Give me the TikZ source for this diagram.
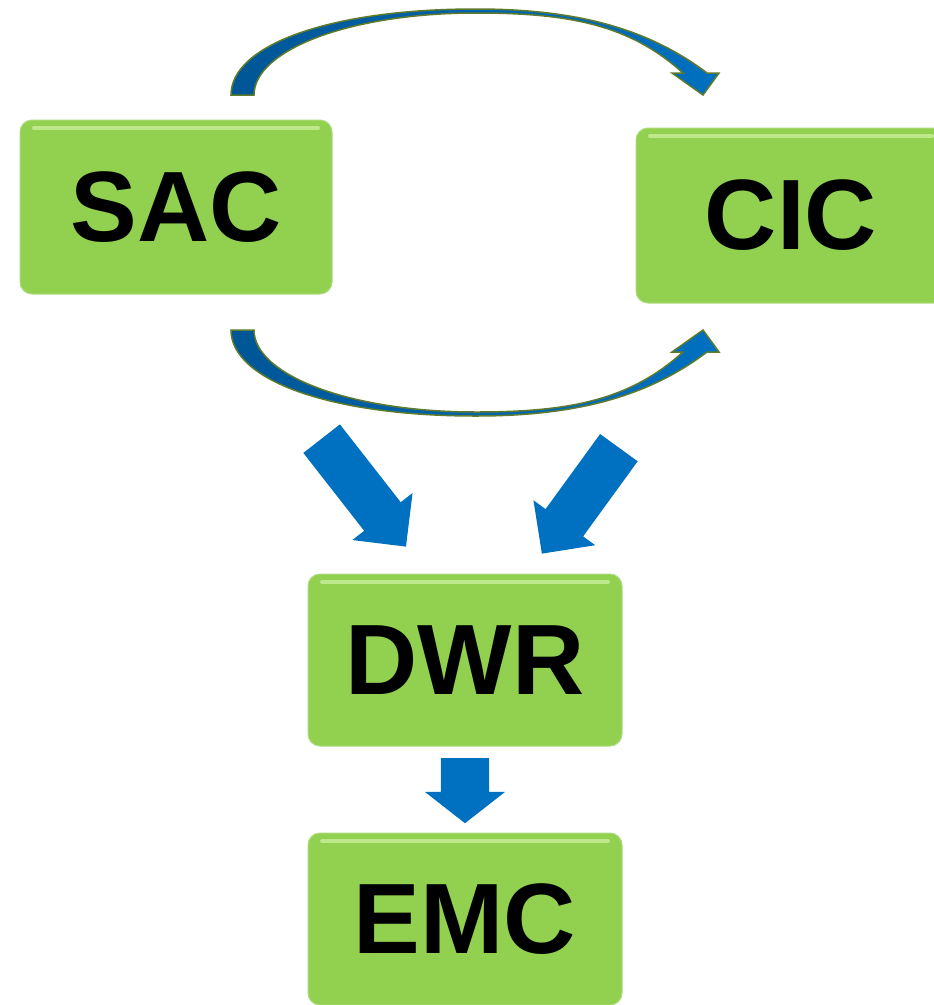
\documentclass[tikz,border=0pt]{standalone}
\usepackage{fontspec}
\setmainfont{Liberation Sans}
\usepackage{tikz}
\usepackage{xcolor}
\usetikzlibrary{positioning,shapes.arrows}
\definecolor{boxgreen}{RGB}{146,208,80}
\definecolor{boxlight}{RGB}{190,232,140}
\definecolor{arrblue}{RGB}{0,112,192}
\definecolor{arrdark}{RGB}{0,86,150}
\definecolor{arrrim}{RGB}{94,122,44}

\tikzset{
    unit/.style={
        rectangle, rounded corners=12pt, fill=boxgreen,
        draw=boxgreen!75!white, line width=1pt, inner sep=0pt,
        font=\fontsize{100}{100}\selectfont\bfseries,
        path picture={
            \draw[boxlight, line width=4pt, line cap=round]
                ([xshift=14pt,yshift=-8pt]path picture bounding box.north west)
                -- ([xshift=-14pt,yshift=-8pt]path picture bounding box.north east);
        }
    },
    blockarrow/.style={
        single arrow, fill=arrblue, draw=none, anchor=tail,
        inner xsep=0pt, inner ysep=23pt,
        single arrow head indent=0pt, single arrow head extend=15pt
    },
    loopband/.style={
        left color=arrdark, right color=arrblue,
        draw=arrrim, line width=1.5pt, line join=miter
    }
}

\newcommand{\loopshape}{
    (231,95) .. controls (231,45) and (330,9) .. (476,9)
    .. controls (580,9) and (650,30) .. (707,73)
    -- (719,73) -- (703,95) -- (672,73) -- (683,73)
    .. controls (630,25) and (570,13) .. (476,13)
    .. controls (350,13) and (254,50) .. (254,95) -- cycle
}

\begin{document}
\begin{tikzpicture}[x=1pt, y=-1pt]
\useasboundingbox (0,0) rectangle (934,1005);

\node[unit, minimum width=312pt, minimum height=174pt] (sac) at (176,207) {SAC};
\node[unit, minimum width=310pt, minimum height=175pt] (cic) at (791,215.5) {CIC};
\node[unit, minimum width=314pt, minimum height=172pt] (dwr) at (465,660) {DWR};
\node[unit, minimum width=314pt, minimum height=172pt] (emc) at (465,919) {EMC};

\fill[loopband] \loopshape;
\begin{scope}[shift={(0,425)}, yscale=-1]
    \fill[loopband] \loopshape;
\end{scope}

\node[blockarrow, minimum height=137pt, rotate=-52] (arrsac) at (321.5,438.5) {};
\node[blockarrow, minimum height=131pt, rotate=-126] (arrcic) at (619,447.5) {};
\node[blockarrow, minimum height=65pt, inner ysep=24pt,
      single arrow head extend=16pt, single arrow tip angle=104,
      rotate=-90] (arrdwr) at (465,758) {};
\end{tikzpicture}
\end{document}
